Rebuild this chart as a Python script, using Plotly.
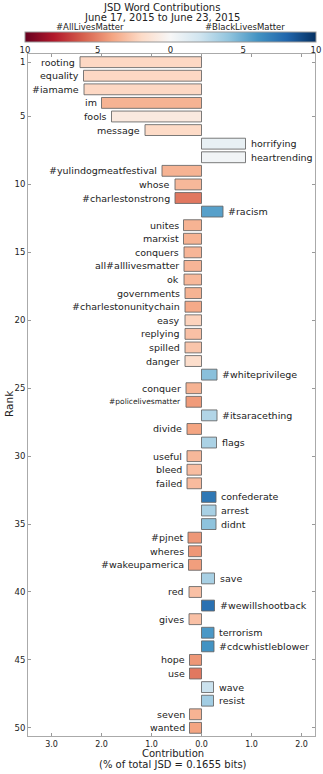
import plotly.graph_objects as go

words = ["rooting", "equality", "#iamame", "im", "fools", "message", "horrifying", "heartrending",
         "#yulindogmeatfestival", "whose", "#charlestonstrong", "#racism", "unites", "marxist",
         "conquers", "all#alllivesmatter", "ok", "governments", "#charlestonunitychain", "easy",
         "replying", "spilled", "danger", "#whiteprivilege", "conquer", "#policelivesmatter",
         "#itsaracething", "divide", "flags", "useful", "bleed", "failed", "confederate", "arrest",
         "didnt", "#pjnet", "wheres", "#wakeupamerica", "save", "red", "#wewillshootback", "gives",
         "terrorism", "#cdcwhistleblower", "hope", "use", "wave", "resist", "seven", "wanted"]
contrib = [-2.43, -2.36, -2.35, -2.00, -1.80, -1.13, 0.88, 0.88, -0.79, -0.53, -0.53, 0.43,
           -0.36, -0.36, -0.35, -0.35, -0.35, -0.33, -0.33, -0.33, -0.33, -0.33, -0.33, 0.31,
           -0.31, -0.31, 0.31, -0.29, 0.30, -0.29, -0.29, -0.29, 0.29, 0.29, 0.29, -0.27, -0.26,
           -0.26, 0.26, -0.25, 0.26, -0.25, 0.25, 0.25, -0.24, -0.24, 0.24, 0.24, -0.24, -0.24]
colorval = [-2.1, -2.1, -2.1, -3.5, -1.0, -2.0, 0.8, 0.3, -3.5, -3.3, -5.3, 5.5, -3.5, -3.5,
            -3.4, -3.4, -3.3, -3.5, -3.8, -2.3, -3.0, -2.8, -1.8, 4.2, -3.5, -4.3, 3.0, -4.0,
            3.2, -3.3, -3.1, -3.2, 7.2, 3.3, 4.1, -4.4, -4.4, -4.2, 3.3, -3.0, 7.5, -3.0, 5.8,
            6.0, -4.4, -5.3, 2.2, 3.5, -3.5, -4.0]
ranks = list(range(1, len(words) + 1))
xtick_vals = [-3, -2, -1, 0, 1, 2]
xtick_text = ["3.0", "2.0", "1.0", "0.0", "1.0", "2.0"]
ytick_vals = [1, 5, 10, 15, 20, 25, 30, 35, 40, 45, 50]
cb_vals = [-10, -5, 0, 5, 10]
cb_text = ["10", "5", "0", "5", "10"]

rdbu = ['rgb(103,0,31)', 'rgb(178,24,43)', 'rgb(214,96,77)', 'rgb(244,165,130)',
        'rgb(253,219,199)', 'rgb(247,247,247)', 'rgb(209,229,240)', 'rgb(146,197,222)',
        'rgb(67,147,195)', 'rgb(33,102,172)', 'rgb(5,48,97)']
cscale = [[i / (len(rdbu) - 1), c] for i, c in enumerate(rdbu)]

FONT = "DejaVu Sans"
W, H = 323, 774
L, R, T, B = 28, 8, 54, 38
plot_w = W - L - R
plot_h = H - T - B

fig = go.Figure()
fig.add_trace(go.Bar(
    x=contrib, y=ranks, orientation="h", width=0.8,
    marker=dict(color=colorval, colorscale=cscale, cmin=-10, cmax=10,
                line=dict(color="rgba(100,100,100,0.85)", width=1),
                showscale=True,
                colorbar=dict(orientation="h", thickness=10, thicknessmode="pixels",
                              len=291, lenmode="pixels",
                              x=(170.5 - L) / plot_w, xanchor="center",
                              y=(H - B - 32) / plot_h, yanchor="top",
                              xpad=0, ypad=0, outlinecolor="#999", outlinewidth=1,
                              tickvals=cb_vals, ticktext=cb_text, ticks="",
                              tickfont=dict(family=FONT, size=8.5, color="#222"))),
    hoverinfo="skip",
))

annotations = []
for w, v, r in zip(words, contrib, ranks):
    size = 7.5 if w == "#policelivesmatter" else 9.5
    annotations.append(dict(x=v, y=r, xref="x", yref="y", text=w, showarrow=False,
                            xanchor="right" if v < 0 else "left",
                            xshift=-3 if v < 0 else 3,
                            font=dict(family=FONT, size=size, color="#222")))

def px_x(px):
    return (px - L) / plot_w

def px_y(py):
    return (H - B - py) / plot_h

annotations += [
    dict(x=px_x(161.5), y=px_y(7), xref="paper", yref="paper", text="JSD Word Contributions",
         showarrow=False, xanchor="center", yanchor="middle",
         font=dict(family=FONT, size=10, color="#222")),
    dict(x=px_x(161.5), y=px_y(17), xref="paper", yref="paper",
         text="June 17, 2015 to June 23, 2015", showarrow=False, xanchor="center",
         yanchor="middle", font=dict(family=FONT, size=10, color="#222")),
    dict(x=px_x(90), y=px_y(26.5), xref="paper", yref="paper", text="#AllLivesMatter",
         showarrow=False, xanchor="center", yanchor="middle",
         font=dict(family=FONT, size=8.5, color="#222")),
    dict(x=px_x(245), y=px_y(26.5), xref="paper", yref="paper", text="#BlackLivesMatter",
         showarrow=False, xanchor="center", yanchor="middle",
         font=dict(family=FONT, size=8.5, color="#222")),
    dict(x=px_x(173), y=px_y(753), xref="paper", yref="paper", text="Contribution",
         showarrow=False, xanchor="center", yanchor="middle", borderpad=0,
         font=dict(family=FONT, size=10, color="#222")),
    dict(x=px_x(173), y=px_y(764.5), xref="paper", yref="paper",
         text="(% of total JSD = 0.1655 bits)", showarrow=False, xanchor="center",
         yanchor="middle", borderpad=0, font=dict(family=FONT, size=10, color="#222")),
    dict(x=px_x(9), y=px_y(404), xref="paper", yref="paper", text="Rank", textangle=-90,
         showarrow=False, xanchor="center", yanchor="middle",
         font=dict(family=FONT, size=10.5, color="#222")),
]

fig.update_layout(
    width=W, height=H, margin=dict(l=L, r=R, t=T, b=B, pad=0, autoexpand=False),
    paper_bgcolor="white", plot_bgcolor="white", showlegend=False,
    font=dict(family=FONT, color="#222"),
    annotations=annotations,
    xaxis=dict(range=[-3.47, 2.27], tickvals=xtick_vals, ticktext=xtick_text,
               showgrid=False, zeroline=False, showline=True, linecolor="#aaa", linewidth=1,
               mirror="allticks", ticks="inside", ticklen=3, tickcolor="#999",
               tickfont=dict(family=FONT, size=8, color="#222")),
    yaxis=dict(range=[50.6, 0.4], tickvals=ytick_vals, showgrid=False, zeroline=False,
               showline=True, linecolor="#aaa", linewidth=1, mirror="allticks",
               ticks="inside", ticklen=3, tickcolor="#999",
               tickfont=dict(family=FONT, size=8.5, color="#222")),
)

fig.write_html("out.html", config={"displayModeBar": False},
               post_script="document.body.style.margin='0px';document.body.style.overflow='hidden';")
